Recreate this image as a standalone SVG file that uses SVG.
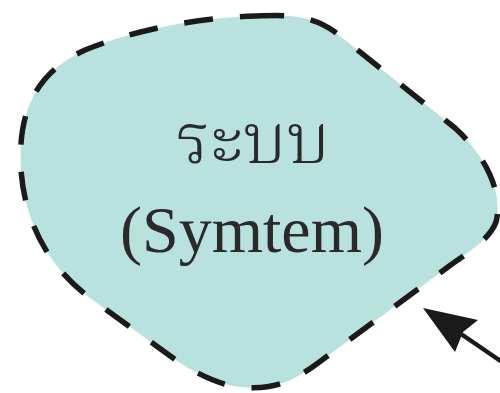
<svg xmlns="http://www.w3.org/2000/svg" width="500" height="393" viewBox="0 0 500 393">
<style>
.blob{fill:#b9e2df;stroke:#1a1a1a;stroke-width:5.5;stroke-dasharray:29 27;stroke-linecap:butt;stroke-linejoin:round}
.lbl{font-family:"Liberation Serif","Noto Serif Thai","Noto Sans Thai","DejaVu Serif",serif;fill:#2a2a2a;text-anchor:middle}
.arr{stroke:#1a1a1a;stroke-width:4.5;fill:none}
.head{fill:#1a1a1a}
</style>
<rect width="500" height="393" fill="#ffffff"/>
<g id="system">
<path class="blob" d="M255,16 C285,15 310,14 335,32 L455,128 C488,158 503,195 496,222 C490,238 472,250 452,264 L318,363 C290,384 270,390 240,387 C220,385 200,375 180,363 L90,298 C50,268 25,225 21,170 C18,120 30,75 85,50 C140,28 200,18 255,16 Z"/>
<text class="lbl" x="253" y="163" font-size="70" font-weight="300">ระบบ</text>
<text class="lbl" x="252" y="252" font-size="66">(Symtem)</text>
</g>
<g id="connectors">
<line class="arr" x1="502" y1="362" x2="445" y2="323"/>
<path class="head" d="M423,308 L478,320 L463,332 L455,352 Z"/>
</g>
</svg>
